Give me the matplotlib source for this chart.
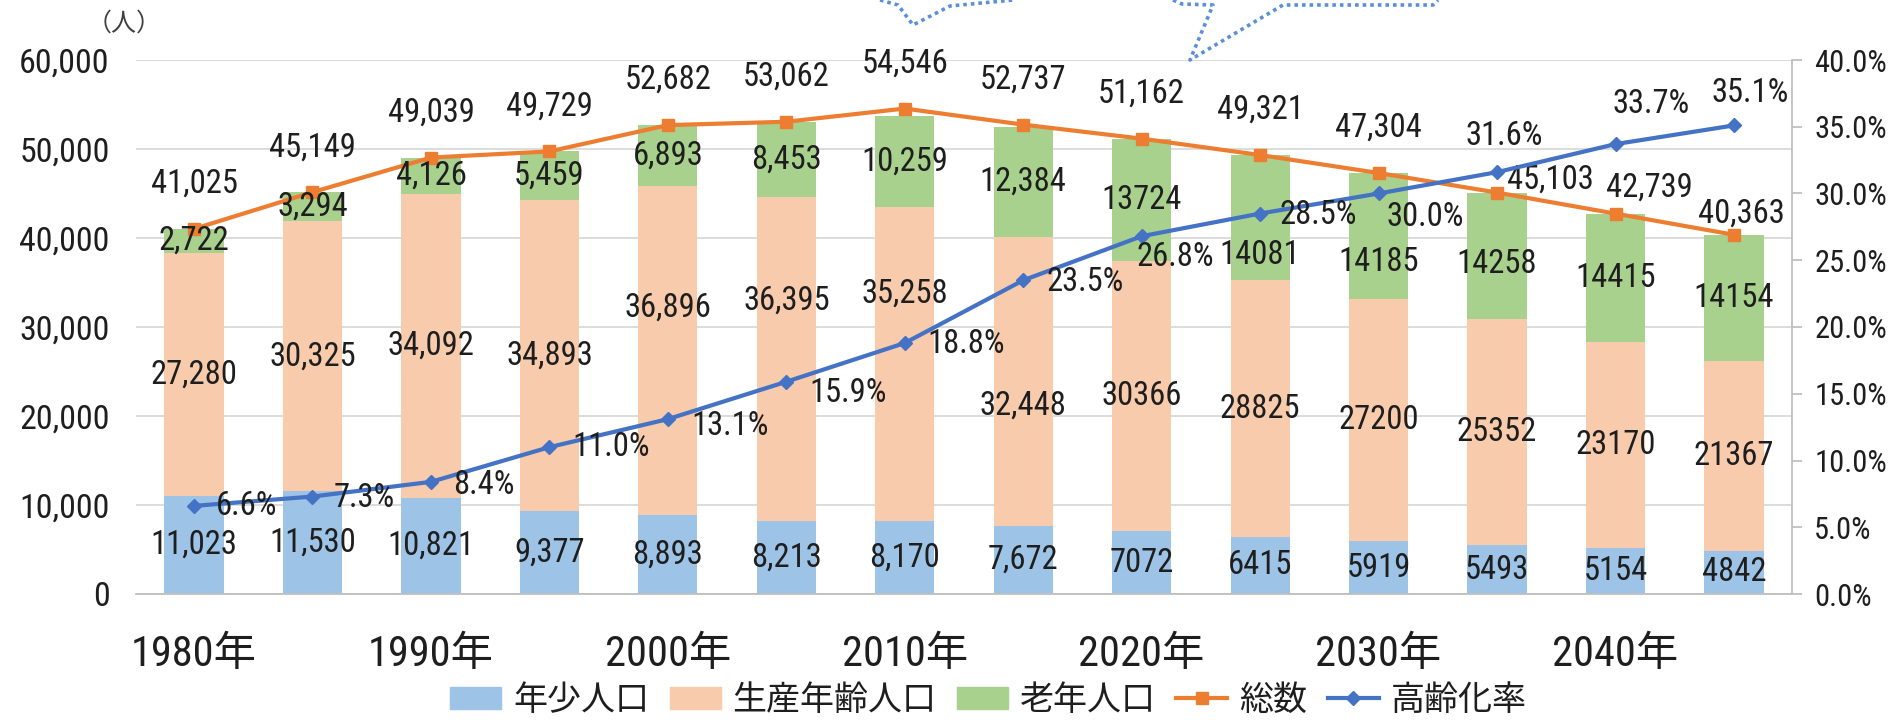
import matplotlib
matplotlib.use('Agg')
import matplotlib.pyplot as plt
import numpy as np
from matplotlib.lines import Line2D
from matplotlib.patches import Patch
from matplotlib.ticker import FuncFormatter, MultipleLocator
from matplotlib import font_manager as fm

# ---------------- data ----------------
years = [1980, 1985, 1990, 1995, 2000, 2005, 2010, 2015, 2020, 2025, 2030, 2035, 2040, 2045]
young = [11023, 11530, 10821, 9377, 8893, 8213, 8170, 7672, 7072, 6415, 5919, 5493, 5154, 4842]
working = [27280, 30325, 34092, 34893, 36896, 36395, 35258, 32448, 30366, 28825, 27200, 25352, 23170, 21367]
elderly = [2722, 3294, 4126, 5459, 6893, 8453, 10259, 12384, 13724, 14081, 14185, 14258, 14415, 14154]
total = [41025, 45149, 49039, 49729, 52682, 53062, 54546, 52737, 51162, 49321, 47304, 45103, 42739, 40363]
aging_rate = [6.6, 7.3, 8.4, 11.0, 13.1, 15.9, 18.8, 23.5, 26.8, 28.5, 30.0, 31.6, 33.7, 35.1]
series_names = ['年少人口', '生産年齢人口', '老年人口', '総数', '高齢化率']
unit_label = '（人）'

# ---------------- fonts: prefer a narrow Latin face, CJK fallback ----------------
CJK = 'Noto Sans CJK JP'
entries = fm.fontManager.ttflist
names = {f.name for f in entries}
narrow = None
stretch = 'normal'
for cand in ['Liberation Sans Narrow', 'Roboto Condensed', 'Noto Sans Condensed',
             'Open Sans Condensed', 'DejaVu Sans Condensed', 'Arial Narrow']:
    if cand in names:
        narrow = cand
        break
if narrow is None:
    for fam in ['DejaVu Sans', 'Noto Sans', 'Open Sans', 'Roboto']:
        if any(f.name == fam and str(f.stretch) in ('condensed', 'semi-condensed', '500', '600', '700')
               and f.style == 'normal' for f in entries):
            narrow = fam
            stretch = 'condensed'
            break
FONT = ([narrow] if narrow else []) + [CJK, 'DejaVu Sans']
plt.rcParams['font.family'] = FONT
plt.rcParams['font.stretch'] = stretch

TXT = '#1e1e1e'
C_YOUNG, C_WORK, C_OLD = '#9DC3E6', '#F8CBAD', '#A9D18E'
C_TOTAL, C_RATE = '#ED7D31', '#4472C4'
GRID = '#D9D9D9'
AXIS = '#BFBFBF'

# label styling (comma formatting / manual nudges as in the original)
comma_bar_labels = [True] * 8 + [False] * 6
working_label_shift = [0, 0, 0, 0, 4800, 6500, 7900, -2700, 0, 0, 0, 0, 0, 0]
elderly_label_shift = [0, 0, 0, 0, 0, 0, 0, 0, 0, -4200, -2900, -900, 0, 0]
total_label_off_px = [(0, 45)] * 11 + [(53, 13), (34, 26), (7, 21)]
rate_label_off_px = [(22, 0), (21, -1), (22, -3), (23, 0), (24, -7), (23, -11), (23, -1),
                     (23, -2), (-5, -21), (19, -1), (8, -24), (-32, 36), (-3, 40), (-22, 32)]

W, H = 1901, 720
fig = plt.figure(figsize=(W / 100, H / 100), dpi=100)
ax = fig.add_axes([136 / W, 1 - 594 / H, (1792 - 136) / W, (594 - 60) / H])
ax2 = ax.twinx()

x = np.arange(len(years))
young_a = np.array(young)
work_a = np.array(working)
old_a = np.array(elderly)
bw = 0.5

ax.bar(x, young_a, bw, color=C_YOUNG, zorder=2)
ax.bar(x, work_a, bw, bottom=young_a, color=C_WORK, zorder=2)
ax.bar(x, old_a, bw, bottom=young_a + work_a, color=C_OLD, zorder=2)
ax.plot(x, total, color=C_TOTAL, lw=3, marker='s', ms=9, zorder=4)
ax2.plot(x, aging_rate, color=C_RATE, lw=3, marker='D', ms=7.5, zorder=4)

LBL = 23.5
def fmt(v, comma):
    return f'{v:,}' if comma else f'{v}'

for i in range(len(years)):
    ax.text(x[i], young_a[i] / 2, fmt(young[i], comma_bar_labels[i]), ha='center', va='center',
            fontsize=LBL, color=TXT, zorder=5)
    ax.text(x[i], young_a[i] + work_a[i] / 2 + working_label_shift[i], fmt(working[i], comma_bar_labels[i]),
            ha='center', va='center', fontsize=LBL, color=TXT, zorder=5)
    ax.text(x[i], young_a[i] + work_a[i] + old_a[i] / 2 + elderly_label_shift[i],
            fmt(elderly[i], comma_bar_labels[i]), ha='center', va='center', fontsize=LBL, color=TXT, zorder=5)
    dx, dy = total_label_off_px[i]
    ax.annotate(f'{total[i]:,}', (x[i], total[i]), xytext=(dx * 0.72, dy * 0.72), textcoords='offset points',
                ha='center', va='center', fontsize=LBL, color=TXT, zorder=6)
    dx, dy = rate_label_off_px[i]
    ax2.annotate(f'{aging_rate[i]:.1f}%', (x[i], aging_rate[i]), xytext=(dx * 0.72, dy * 0.72),
                 textcoords='offset points', ha='left', va='center', fontsize=LBL, color=TXT, zorder=6)

# axes
ax.set_xlim(-0.49, len(years) - 0.51)
ax.set_ylim(0, 60000)
ax.yaxis.set_major_locator(MultipleLocator(10000))
ax.yaxis.set_major_formatter(FuncFormatter(lambda v, p: f'{int(v):,}'))
ax.grid(axis='y', color=GRID, lw=1.3, zorder=0)
ax.set_axisbelow(True)
ax.set_xticks(x)
ax.set_xticklabels([f'{y}年' if y % 10 == 0 else '' for y in years])
ax.tick_params(axis='x', length=0, pad=29, labelsize=30.5, labelcolor=TXT)
ax.tick_params(axis='y', length=0, pad=19, labelsize=24.5, labelcolor=TXT)
for s in ['top', 'left', 'right']:
    ax.spines[s].set_visible(False)
ax.spines['bottom'].set_color(AXIS)
ax.spines['bottom'].set_linewidth(1.3)

ax2.set_ylim(0, 40)
ax2.yaxis.set_major_locator(MultipleLocator(5))
ax2.yaxis.set_major_formatter(FuncFormatter(lambda v, p: f'{v:.1f}%'))
ax2.tick_params(axis='y', length=7, width=1.3, color=AXIS, pad=9, labelsize=22, labelcolor=TXT)
for s in ['top', 'left', 'bottom']:
    ax2.spines[s].set_visible(False)
ax2.spines['right'].set_color(AXIS)
ax2.spines['right'].set_linewidth(1.3)

fig.text(124 / W, 1 - 24 / H, unit_label, ha='center', va='center', fontsize=18, color='#404040')

# legend
handles = [Patch(color=C_YOUNG), Patch(color=C_WORK), Patch(color=C_OLD),
           Line2D([], [], color=C_TOTAL, lw=3, marker='s', ms=9),
           Line2D([], [], color=C_RATE, lw=3, marker='D', ms=7.5)]
fig.legend(handles, series_names, loc='center', bbox_to_anchor=(0.52, 1 - 701 / H), ncol=5,
           frameon=False, fontsize=24.5, handlelength=1.5, handleheight=0.65, handletextpad=0.35,
           columnspacing=0.6, labelcolor=TXT)

# partially visible dotted callout at the top
callout_left = [(880, 0), (898, 5), (913, 25), (950, 6), (1013, 0)]
callout_right = [(1173, 0), (1182, 4), (1213, 5), (1190, 60), (1283, 5), (1433, 5), (1438, 0)]
for pts in (callout_left, callout_right):
    xs = [p[0] / W for p in pts]
    ys = [1 - p[1] / H for p in pts]
    fig.add_artist(Line2D(xs, ys, transform=fig.transFigure, color='#5B8FD9', lw=2.6,
                          linestyle=(0, (1, 1.1))))

fig.savefig('out.png', dpi=100)
